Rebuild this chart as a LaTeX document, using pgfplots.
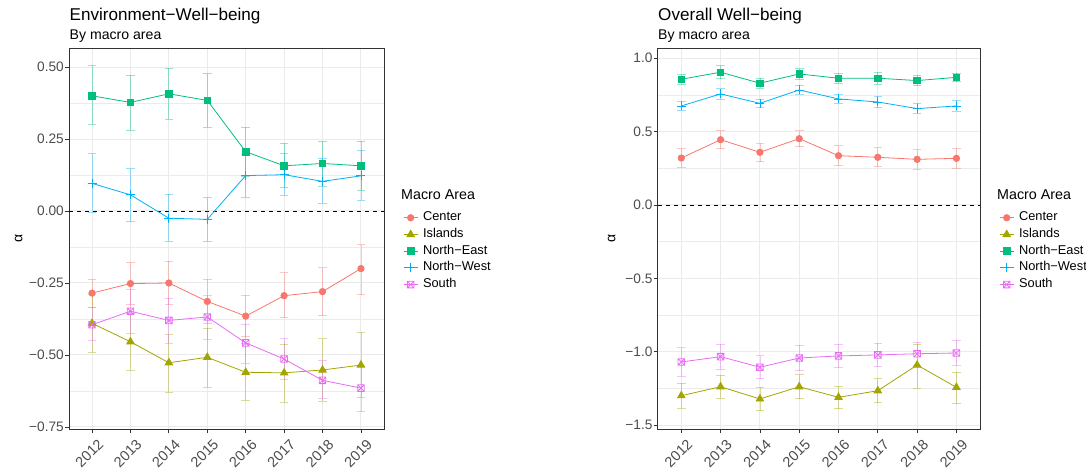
\documentclass[border=0pt]{standalone}
\usepackage{pgfplots}
\pgfplotsset{compat=1.18}
\usepackage{pgfplotstable}
\usepackage{fontspec}
\setmainfont{Liberation Sans}

\definecolor{cC}{HTML}{F8766D}
\definecolor{cI}{HTML}{A3A500}
\definecolor{cNE}{HTML}{00BF7D}
\definecolor{cNW}{HTML}{00B0F6}
\definecolor{cS}{HTML}{E76BF3}
\definecolor{ggdark}{HTML}{333333}
\definecolor{gggrid}{HTML}{EBEBEB}
\definecolor{ggtick}{HTML}{4D4D4D}

\pgfdeclareplotmark{boxx}{%
 \pgfpathrectangle{\pgfqpoint{-\pgfplotmarksize}{-\pgfplotmarksize}}{\pgfqpoint{2\pgfplotmarksize}{2\pgfplotmarksize}}%
 \pgfpathmoveto{\pgfqpoint{-\pgfplotmarksize}{-\pgfplotmarksize}}\pgfpathlineto{\pgfqpoint{\pgfplotmarksize}{\pgfplotmarksize}}%
 \pgfpathmoveto{\pgfqpoint{-\pgfplotmarksize}{\pgfplotmarksize}}\pgfpathlineto{\pgfqpoint{\pgfplotmarksize}{-\pgfplotmarksize}}%
 \pgfusepathqstroke}

% ---------- Environment-Well-being ----------
\pgfplotstableread{
x y lo hi
0 -0.285 -0.336 -0.236
1 -0.252 -0.326 -0.178
2 -0.250 -0.325 -0.175
3 -0.314 -0.392 -0.236
4 -0.365 -0.437 -0.293
5 -0.294 -0.370 -0.214
6 -0.280 -0.363 -0.197
7 -0.200 -0.290 -0.117
}\EC
\pgfplotstableread{
x y lo hi
0 -0.390 -0.490 -0.290
1 -0.454 -0.552 -0.354
2 -0.527 -0.630 -0.430
3 -0.508 -0.612 -0.407
4 -0.560 -0.657 -0.460
5 -0.562 -0.664 -0.463
6 -0.552 -0.661 -0.443
7 -0.535 -0.647 -0.420
}\EI
\pgfplotstableread{
x y lo hi
0 0.400 0.302 0.505
1 0.377 0.281 0.471
2 0.407 0.318 0.495
3 0.384 0.292 0.477
4 0.206 0.120 0.292
5 0.157 0.082 0.235
6 0.165 0.087 0.243
7 0.157 0.072 0.243
}\ENE
\pgfplotstableread{
x y lo hi
0 0.096 -0.005 0.199
1 0.056 -0.037 0.147
2 -0.025 -0.105 0.058
3 -0.029 -0.105 0.046
4 0.123 0.048 0.195
5 0.126 0.055 0.200
6 0.103 0.027 0.183
7 0.122 0.037 0.212
}\ENW
\pgfplotstableread{
x y lo hi
0 -0.395 -0.450 -0.336
1 -0.348 -0.426 -0.271
2 -0.380 -0.459 -0.303
3 -0.368 -0.446 -0.293
4 -0.458 -0.528 -0.394
5 -0.514 -0.584 -0.444
6 -0.588 -0.650 -0.518
7 -0.615 -0.697 -0.540
}\ES

% ---------- Overall Well-being ----------
\pgfplotstableread{
x y lo hi
0 0.320 0.256 0.384
1 0.445 0.383 0.507
2 0.359 0.295 0.423
3 0.452 0.397 0.507
4 0.336 0.268 0.404
5 0.325 0.260 0.390
6 0.311 0.245 0.377
7 0.318 0.252 0.384
}\OC
\pgfplotstableread{
x y lo hi
0 -1.300 -1.384 -1.216
1 -1.239 -1.317 -1.161
2 -1.322 -1.401 -1.243
3 -1.239 -1.321 -1.157
4 -1.311 -1.388 -1.234
5 -1.266 -1.348 -1.184
6 -1.091 -1.250 -0.950
7 -1.243 -1.354 -1.140
}\OI
\pgfplotstableread{
x y lo hi
0 0.857 0.822 0.892
1 0.905 0.860 0.950
2 0.830 0.795 0.865
3 0.893 0.858 0.928
4 0.864 0.829 0.899
5 0.864 0.824 0.904
6 0.848 0.813 0.883
7 0.870 0.840 0.900
}\ONE
\pgfplotstableread{
x y lo hi
0 0.675 0.645 0.705
1 0.757 0.722 0.792
2 0.693 0.663 0.723
3 0.784 0.754 0.814
4 0.723 0.693 0.753
5 0.702 0.662 0.742
6 0.657 0.622 0.692
7 0.675 0.640 0.710
}\ONW
\pgfplotstableread{
x y lo hi
0 -1.070 -1.167 -0.973
1 -1.034 -1.118 -0.950
2 -1.106 -1.185 -1.027
3 -1.043 -1.129 -0.957
4 -1.029 -1.110 -0.948
5 -1.022 -1.103 -0.941
6 -1.014 -1.092 -0.936
7 -1.009 -1.096 -0.922
}\OS

\pgfplotsset{
  ggaxis/.style={
    scale only axis, height=381pt,
    xmin=-0.6, xmax=7.6,
    xtick={0,...,7}, xticklabels={2012,2013,2014,2015,2016,2017,2018,2019},
    axis line style={color=ggdark, line width=0.8pt},
    grid=both,
    major grid style={color=gggrid, line width=1pt},
    minor grid style={color=gggrid, line width=0.5pt},
    tick align=outside, tick pos=left,
    major tick length=4pt, minor tick length=0pt,
    tick style={color=ggdark, line width=0.8pt},
    ticklabel style={font=\fontsize{13.7}{15}\selectfont, text=ggtick},
    yticklabel style={inner sep=0pt, xshift=-1pt},
    xticklabel style={font=\fontsize{14.5}{16}\selectfont, inner sep=0pt, xshift=5pt, yshift=-5pt, rotate=45, anchor=north east},
    ylabel={α},
    ylabel style={anchor=center, font=\fontsize{14}{16}\selectfont},
    legend cell align=left,
    legend style={anchor=north west, draw=none, fill=none,
      font=\fontsize{12.8}{14}\selectfont,
      nodes={inner sep=1pt, text height=8.5pt, text depth=2.7pt},
      row sep=3.5pt, column sep=4pt},
    legend image code/.code={\draw[mark repeat=2,mark phase=2,#1] plot coordinates {(0pt,0pt) (7pt,0pt) (14pt,0pt)};},
  },
  ggline/.style={color=#1, line width=0.8pt, mark options={solid},
    error bars/y dir=both, error bars/y explicit,
    error bars/error bar style={color=#1, opacity=0.4, line width=0.8pt},
    error bars/error mark options={color=#1, opacity=0.4, line width=0.8pt, mark size=4.3pt, rotate=90}},
  /pgfplots/table/errtab/.style={x=x, y=y,
    y error plus expr=\thisrow{hi}-\thisrow{y},
    y error minus expr=\thisrow{y}-\thisrow{lo}},
}

\begin{document}
\begin{tikzpicture}
\path[use as bounding box] (0,0) rectangle (1086pt,471pt);

% ---------- left ----------
\node[inner sep=0pt, anchor=base west, font=\fontsize{17.1}{19}\selectfont] at (69.5pt,450.3pt) {Environment−Well−being};
\node[inner sep=0pt, anchor=base west, font=\fontsize{14.1}{16}\selectfont] at (69.5pt,431pt) {By macro area};
\begin{axis}[ggaxis, width=315pt, at={(69pt,42pt)}, anchor=south west,
  ymin=-0.757, ymax=0.566,
  ytick={-0.75,-0.5,-0.25,0,0.25,0.5},
  yticklabels={−0.75,−0.50,−0.25,0.00,0.25,0.50},
  minor ytick={-0.625,-0.375,-0.125,0.125,0.375},
  ylabel style={at={(axis description cs:-0.160,0.5)}},
  legend style={at={(1.051,0.5775)}}]
\addplot[black, dash pattern=on 4pt off 4pt, line width=0.8pt, forget plot] coordinates {(-0.6,0) (7.6,0)};
\addplot[ggline=cC, mark=*, mark size=3.2pt] table[errtab] {\EC};
\addplot[ggline=cI, mark=triangle*, mark size=4.3pt] table[errtab] {\EI};
\addplot[ggline=cNE, mark=square*, mark size=3.3pt] table[errtab] {\ENE};
\addplot[ggline=cNW, mark=+, mark size=4.5pt] table[errtab] {\ENW};
\addplot[ggline=cS, mark=boxx, mark size=3.3pt] table[errtab] {\ES};
\legend{Center,Islands,North−East,North−West,South}
\end{axis}
\node[inner sep=0pt, anchor=base west, font=\fontsize{14.3}{16}\selectfont] at (401pt,271.7pt) {Macro Area};

% ---------- right ----------
\node[inner sep=0pt, anchor=base west, font=\fontsize{17.1}{19}\selectfont] at (658pt,450.3pt) {Overall Well−being};
\node[inner sep=0pt, anchor=base west, font=\fontsize{14.1}{16}\selectfont] at (658pt,431pt) {By macro area};
\begin{axis}[ggaxis, width=322.3pt, at={(657.7pt,42pt)}, anchor=south west,
  ymin=-1.527, ymax=1.07,
  ytick={-1.5,-1,-0.5,0,0.5,1},
  yticklabels={−1.5,−1.0,−0.5,0.0,0.5,1.0},
  minor ytick={-1.25,-0.75,-0.25,0.25,0.75},
  ylabel style={at={(axis description cs:-0.143,0.5)}},
  legend style={at={(1.050,0.5775)}}]
\addplot[black, dash pattern=on 4pt off 4pt, line width=0.8pt, forget plot] coordinates {(-0.6,0) (7.6,0)};
\addplot[ggline=cC, mark=*, mark size=3.2pt] table[errtab] {\OC};
\addplot[ggline=cI, mark=triangle*, mark size=4.3pt] table[errtab] {\OI};
\addplot[ggline=cNE, mark=square*, mark size=3.3pt] table[errtab] {\ONE};
\addplot[ggline=cNW, mark=+, mark size=4.5pt] table[errtab] {\ONW};
\addplot[ggline=cS, mark=boxx, mark size=3.3pt] table[errtab] {\OS};
\legend{Center,Islands,North−East,North−West,South}
\end{axis}
\node[inner sep=0pt, anchor=base west, font=\fontsize{14.3}{16}\selectfont] at (997pt,271.7pt) {Macro Area};
\end{tikzpicture}
\end{document}
